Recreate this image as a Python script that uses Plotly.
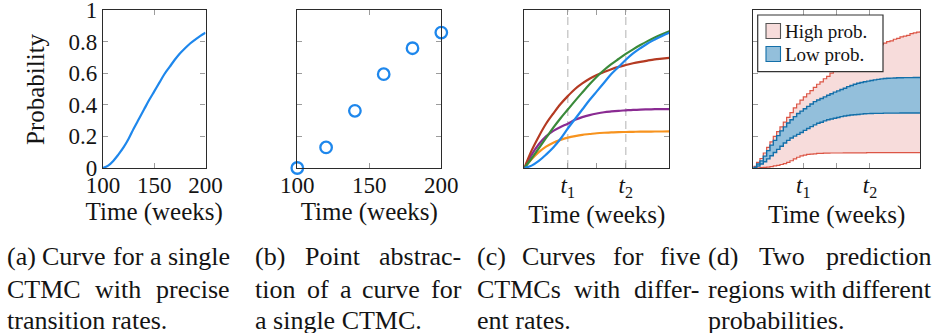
import plotly.graph_objects as go

# ---------------- data ----------------
curve_t = [100, 105, 110, 115, 120, 125, 130, 135, 140, 145, 150,
           155, 160, 165, 170, 175, 180, 185, 190, 195, 200]
blue_curve = [0, 0.015, 0.045, 0.085, 0.13, 0.185, 0.25, 0.31, 0.37, 0.43, 0.485,
              0.54, 0.595, 0.64, 0.685, 0.725, 0.758, 0.788, 0.813, 0.836, 0.856]
green_curve = [0, 0.06, 0.125, 0.19, 0.255, 0.315, 0.37, 0.425, 0.478, 0.53, 0.578,
               0.62, 0.657, 0.69, 0.722, 0.751, 0.778, 0.803, 0.826, 0.847, 0.866]
red_curve = [0, 0.11, 0.2, 0.28, 0.345, 0.405, 0.455, 0.5, 0.535, 0.565, 0.588,
             0.607, 0.625, 0.64, 0.652, 0.663, 0.672, 0.68, 0.687, 0.692, 0.697]
purple_curve = [0, 0.083, 0.15, 0.2, 0.235, 0.26, 0.28, 0.305, 0.322, 0.335, 0.345,
                0.353, 0.358, 0.362, 0.365, 0.368, 0.37, 0.371, 0.372, 0.373, 0.373]
orange_curve = [0, 0.055, 0.1, 0.135, 0.16, 0.178, 0.192, 0.202, 0.21, 0.215, 0.22,
                0.223, 0.225, 0.227, 0.228, 0.229, 0.23, 0.23, 0.231, 0.231, 0.232]

point_t = [100, 120, 140, 160, 180, 200]
point_p = [0.0, 0.13, 0.362, 0.594, 0.758, 0.857]

step_t = [100, 102, 104, 106, 108, 110, 112, 114, 116, 118,
          120, 122, 124, 126, 128, 130, 132, 134, 136, 138,
          140, 142, 144, 146, 148, 150, 152, 154, 156, 158,
          160, 162, 164, 166, 168, 170, 172, 174, 176, 178,
          180, 182, 184, 186, 188, 190, 192, 194, 196, 198, 200]
high_upper = [0.01, 0.035, 0.06, 0.095, 0.13, 0.165, 0.2, 0.23, 0.26, 0.29,
              0.32, 0.35, 0.38, 0.405, 0.43, 0.45, 0.47, 0.49, 0.51, 0.53,
              0.545, 0.565, 0.58, 0.6, 0.615, 0.63, 0.645, 0.66, 0.675, 0.69,
              0.7, 0.71, 0.72, 0.73, 0.74, 0.75, 0.76, 0.77, 0.78, 0.79,
              0.8, 0.805, 0.815, 0.82, 0.83, 0.835, 0.84, 0.85, 0.855, 0.86, 0.865]
low_upper = [0.005, 0.025, 0.045, 0.075, 0.11, 0.145, 0.175, 0.205, 0.235, 0.26,
             0.285, 0.305, 0.325, 0.345, 0.36, 0.375, 0.39, 0.405, 0.42, 0.43,
             0.44, 0.45, 0.46, 0.47, 0.48, 0.488, 0.497, 0.505, 0.515, 0.522,
             0.53, 0.536, 0.541, 0.546, 0.55, 0.554, 0.558, 0.561, 0.564, 0.566,
             0.568, 0.569, 0.57, 0.571, 0.571, 0.572, 0.572, 0.572, 0.573, 0.573, 0.573]
low_lower = [0.0, 0.012, 0.025, 0.04, 0.058, 0.078, 0.098, 0.118, 0.138, 0.158,
             0.175, 0.19, 0.202, 0.213, 0.225, 0.238, 0.25, 0.262, 0.273, 0.283,
             0.29, 0.298, 0.305, 0.31, 0.315, 0.32, 0.325, 0.329, 0.332, 0.335,
             0.337, 0.339, 0.341, 0.343, 0.344, 0.345, 0.346, 0.346, 0.346, 0.347,
             0.347, 0.347, 0.347, 0.347, 0.348, 0.348, 0.348, 0.348, 0.348, 0.348, 0.348]
high_lower = [0.0, 0.0, 0.002, 0.004, 0.006, 0.009, 0.013, 0.017, 0.022, 0.028,
              0.036, 0.046, 0.058, 0.068, 0.077, 0.082, 0.086, 0.088, 0.09, 0.092,
              0.093, 0.094, 0.094, 0.095, 0.095, 0.095, 0.095, 0.096, 0.096, 0.096,
              0.096, 0.096, 0.096, 0.096, 0.097, 0.097, 0.097, 0.097, 0.097, 0.097,
              0.097, 0.097, 0.097, 0.097, 0.097, 0.097, 0.097, 0.097, 0.097, 0.097, 0.097]

y_tick_vals = [0, 0.2, 0.4, 0.6, 0.8, 1]
y_tick_text = ["0", "0.2", "0.4", "0.6", "0.8", "1"]
x_tick_vals_ab = [100, 150, 200]
x_tick_text_ab = ["100", "150", "200"]
x_tick_vals_cd = [130, 150, 170]
x_tick_text_cd = ["<i>t</i><sub>1</sub>", "", "<i>t</i><sub>2</sub>"]
t_marks = [130, 170]

legend_labels = ["High prob.", "Low prob."]
x_title = "Time (weeks)"
y_title = "Probability"

captions = [
    ["(a) Curve for a single", "CTMC with precise", "transition rates."],
    ["(b) Point abstrac-", "tion of a curve for", "a single CTMC."],
    ["(c) Curves for five", "CTMCs with differ-", "ent rates."],
    ["(d) Two prediction", "regions with different", "probabilities."],
]

# ---------------- style ----------------
W, H = 933, 333
FONT = "Liberation Serif"
TXT = "#141414"
FRAME = "#2b2b2b"
TICKC = "#9c9c9c"
BLUE = "#1e87ec"
GREEN = "#3a8a3a"
RED = "#b43a22"
PURPLE = "#8a2b92"
ORANGE = "#f7931e"
PINK_FILL = "#f7dcdb"
PINK_LINE = "#dc5545"
BLUE_FILL = "#93bfdb"
BLUE_LINE = "#136fa9"

panel_x = [(103, 205.5), (297.3, 441.3), (524.3, 669.3), (753.3, 920)]
PY0, PY1 = 10, 168


def px(x):
    return x / W


def py(y):
    return 1 - y / H


fig = go.Figure()

# (a)
fig.add_trace(go.Scatter(x=curve_t, y=blue_curve, mode="lines",
                         line=dict(color=BLUE, width=2.2, shape="spline"),
                         xaxis="x", yaxis="y", showlegend=False))
# (b)
fig.add_trace(go.Scatter(x=point_t, y=point_p, mode="markers",
                         marker=dict(symbol="circle-open", size=11.5, color=BLUE,
                                     line=dict(width=2.3, color=BLUE)),
                         cliponaxis=False, xaxis="x2", yaxis="y2", showlegend=False))
# (c)
for ys, col in [(orange_curve, ORANGE), (purple_curve, PURPLE), (red_curve, RED),
                (green_curve, GREEN), (blue_curve, BLUE)]:
    fig.add_trace(go.Scatter(x=curve_t, y=ys, mode="lines",
                             line=dict(color=col, width=2.2, shape="spline"),
                             xaxis="x3", yaxis="y3", showlegend=False))
# (d)
fig.add_trace(go.Scatter(x=step_t, y=high_lower, mode="lines",
                         line=dict(color=PINK_LINE, width=1.2, shape="hv"),
                         xaxis="x4", yaxis="y4", showlegend=False))
fig.add_trace(go.Scatter(x=step_t, y=high_upper, mode="lines", fill="tonexty",
                         fillcolor=PINK_FILL,
                         line=dict(color=PINK_LINE, width=1.2, shape="hv"),
                         xaxis="x4", yaxis="y4", showlegend=False))
fig.add_trace(go.Scatter(x=step_t, y=low_lower, mode="lines",
                         line=dict(color=BLUE_LINE, width=1.4, shape="hv"),
                         xaxis="x4", yaxis="y4", showlegend=False))
fig.add_trace(go.Scatter(x=step_t, y=low_upper, mode="lines", fill="tonexty",
                         fillcolor=BLUE_FILL,
                         line=dict(color=BLUE_LINE, width=1.4, shape="hv"),
                         xaxis="x4", yaxis="y4", showlegend=False))

tickfont = dict(family=FONT, size=23, color=TXT)
titlefont = dict(family=FONT, size=25, color=TXT)


def xax(i, tv, tt, labels=True):
    a, b = panel_x[i]
    return dict(domain=[px(a), px(b)], anchor="y" if i == 0 else "y%d" % (i + 1),
                range=[100, 200], showline=True, linecolor=FRAME, linewidth=1.3,
                mirror="ticks", ticks="inside", ticklen=5, tickwidth=1.3,
                tickcolor=TICKC, showgrid=False, zeroline=False, automargin=False,
                ticklabeloverflow="allow", ticklabelstandoff=-4,
                tickvals=tv, ticktext=tt, showticklabels=labels, tickfont=tickfont,
                title=dict(text=x_title, font=titlefont, standoff=0))


def yax(i, labels, mirror="ticks"):
    return dict(domain=[py(PY1), py(PY0)], anchor="x" if i == 0 else "x%d" % (i + 1),
                range=[0, 1], showline=True, linecolor=FRAME, linewidth=1.3,
                mirror=mirror, ticks="inside", ticklen=5, tickwidth=1.3,
                tickcolor=TICKC, showgrid=False, zeroline=False, automargin=False,
                ticklabeloverflow="allow",
                tickvals=y_tick_vals, ticktext=y_tick_text,
                showticklabels=labels, tickfont=tickfont)


shapes = []
for tm in t_marks:
    shapes.append(dict(type="line", xref="x3", yref="y3", x0=tm, x1=tm, y0=0, y1=1,
                       line=dict(color="#c4c4c4", width=1.3, dash="8px,5px"),
                       layer="below"))

annotations = []
# y-axis title of panel (a)
annotations.append(dict(xref="paper", yref="paper", x=px(35), y=py((PY0 + PY1) / 2),
                        xanchor="center", yanchor="middle", showarrow=False,
                        textangle=-90, text=y_title, font=titlefont))

# legend for (d)
shapes.append(dict(type="rect", xref="paper", yref="paper",
                   x0=px(757.7), x1=px(883), y0=py(71.7), y1=py(15),
                   fillcolor="white", line=dict(color="#333333", width=1.2),
                   layer="above"))
for k, (lab, fc, lc) in enumerate(zip(legend_labels, [PINK_FILL, BLUE_FILL],
                                      ["#555555", BLUE_LINE])):
    yc = 31 + 23 * k
    shapes.append(dict(type="rect", xref="paper", yref="paper",
                       x0=px(766), x1=px(780.5), y0=py(yc + 7.5), y1=py(yc - 7.5),
                       fillcolor=fc, line=dict(color=lc, width=1.1),
                       layer="above"))
    annotations.append(dict(xref="paper", yref="paper", x=px(783), y=py(yc),
                            xanchor="left", yanchor="middle", showarrow=False,
                            text=lab, font=dict(family=FONT, size=19, color=TXT)))

# captions (justified)
TW = {' ': 250, '(': 333, ')': 333, '-': 333, '.': 250,
      'a': 444, 'b': 500, 'c': 444, 'd': 500, 'e': 444, 'f': 333, 'g': 500,
      'h': 500, 'i': 278, 'k': 500, 'l': 278, 'm': 778, 'n': 500, 'o': 500,
      'p': 500, 'r': 333, 's': 389, 't': 278, 'u': 500, 'v': 500, 'w': 722,
      'y': 500, 'C': 667, 'M': 889, 'P': 556, 'T': 611}
CAP_SIZE = 26


def wwidth(s):
    return sum(TW.get(c, 500) for c in s) / 1000.0 * CAP_SIZE


cap_cols = [(6.7, 230), (255, 461.7), (476.7, 700), (708.3, 931.7)]
cap_rows = [256, 289, 320]
for (xl, xr), lines in zip(cap_cols, captions):
    for r, line in enumerate(lines):
        yc = cap_rows[r]
        if r < 2:
            words = line.split(" ")
            total = sum(wwidth(w) for w in words)
            gap = (xr - xl - total) / (len(words) - 1)
            x = xl
            for w in words:
                annotations.append(dict(xref="paper", yref="paper", x=px(x - 2), y=py(yc),
                                        xanchor="left", yanchor="middle", showarrow=False,
                                        text=w, font=dict(family=FONT, size=CAP_SIZE, color=TXT)))
                x += wwidth(w) + gap
        else:
            annotations.append(dict(xref="paper", yref="paper", x=px(xl - 2), y=py(yc),
                                    xanchor="left", yanchor="middle", showarrow=False,
                                    text=line, font=dict(family=FONT, size=CAP_SIZE, color=TXT)))

fig.update_layout(
    template="none",
    width=W, height=H, margin=dict(l=0, r=0, t=0, b=0, autoexpand=False),
    paper_bgcolor="white", plot_bgcolor="white",
    xaxis=xax(0, x_tick_vals_ab, x_tick_text_ab),
    yaxis=yax(0, True),
    xaxis2=xax(1, x_tick_vals_ab, x_tick_text_ab),
    yaxis2=yax(1, False),
    xaxis3=xax(2, x_tick_vals_cd, x_tick_text_cd),
    yaxis3=yax(2, False),
    xaxis4=xax(3, x_tick_vals_cd, x_tick_text_cd),
    yaxis4=yax(3, False, mirror=True),
    shapes=shapes, annotations=annotations, showlegend=False,
)

fig.write_html("out.html",
               config={"displayModeBar": False},
               post_script="document.body.style.margin='0px';"
                           "document.body.style.padding='0px';")
